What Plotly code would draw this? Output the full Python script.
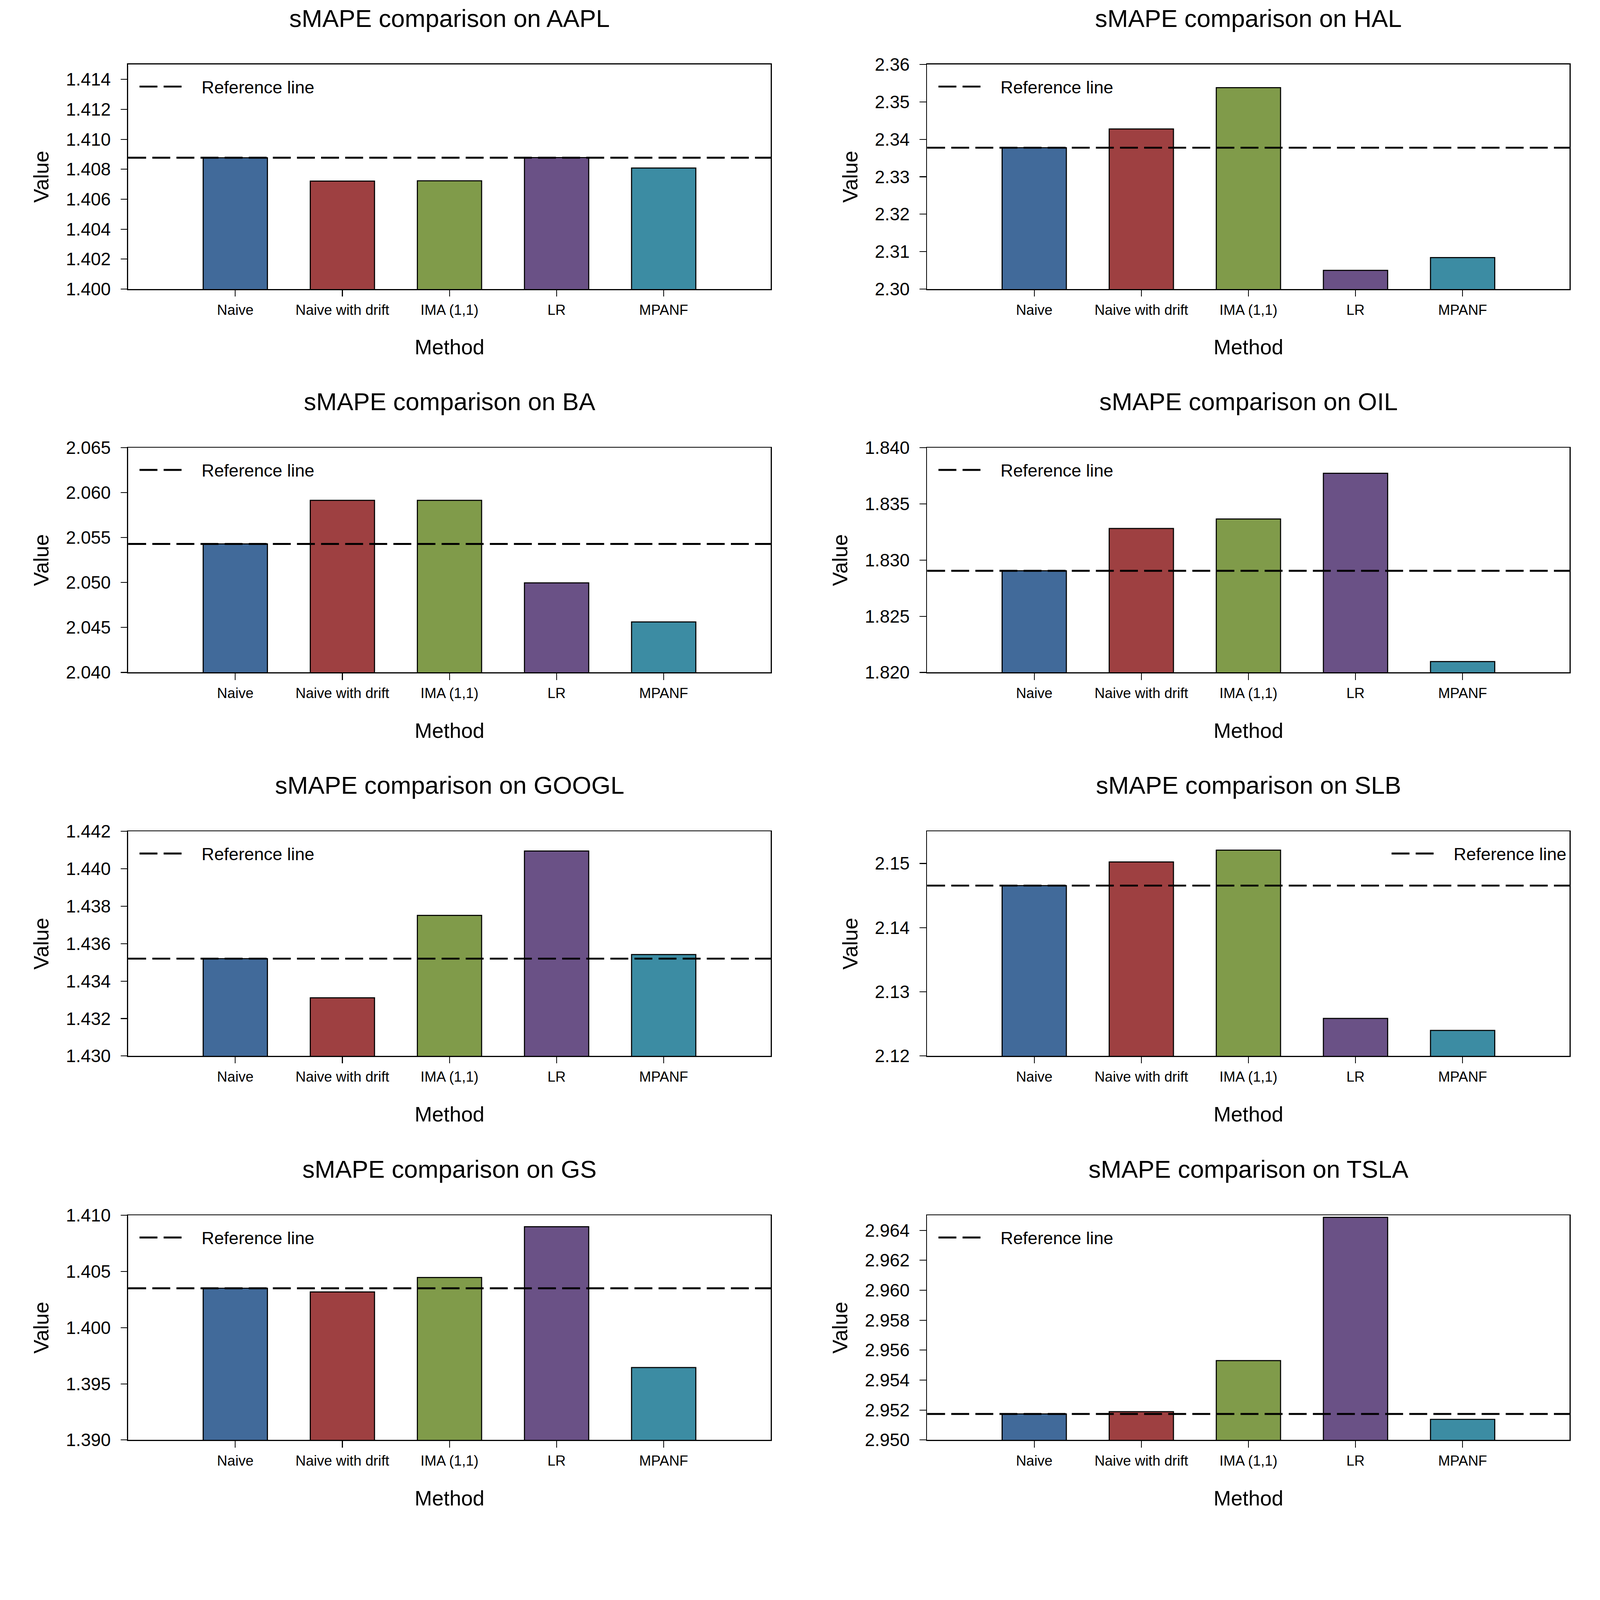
import plotly.graph_objects as go

W, H = 7500, 7198

methods = ["Naive", "Naive with drift", "IMA (1,1)", "LR", "MPANF"]
colors = ["#416A9A", "#9E4041", "#809B4A", "#6A5186", "#3C8CA3"]

tickers = ["AAPL", "HAL", "BA", "OIL", "GOOGL", "SLB", "GS", "TSLA"]

aapl = [1.40877, 1.40721, 1.40723, 1.40878, 1.40808]
hal = [2.33776, 2.34276, 2.35380, 2.30500, 2.30842]
ba = [2.05430, 2.05915, 2.05915, 2.04997, 2.04562]
oil = [1.82905, 1.83282, 1.83366, 1.83773, 1.82097]
googl = [1.43520, 1.43311, 1.43751, 1.44095, 1.43542]
slb = [2.14655, 2.15023, 2.15207, 2.12586, 2.12398]
gs = [1.40351, 1.40318, 1.40447, 1.40899, 1.39645]
tsla = [2.95174, 2.95189, 2.95530, 2.96487, 2.95138]

values = [aapl, hal, ba, oil, googl, slb, gs, tsla]
reference = [v[0] for v in values]

y_ranges = [[1.400, 1.415], [2.30, 2.36], [2.040, 2.065], [1.820, 1.840],
            [1.430, 1.442], [2.12, 2.155], [1.390, 1.410], [2.950, 2.965]]
y_dticks = [0.002, 0.01, 0.005, 0.005, 0.002, 0.01, 0.005, 0.002]
y_formats = [".3f", ".2f", ".3f", ".3f", ".3f", ".2f", ".3f", ".3f"]
legend_right = [False, False, False, False, False, True, False, False]

FONT = "Arial, Liberation Sans, Helvetica, sans-serif"

col_x = [(601, 3613), (4346, 7358)]
row_top = [302, 2099, 3897, 5697]
plot_h = 1053

fig = go.Figure()
layout = dict(
    width=W, height=H,
    margin=dict(l=0, r=0, t=0, b=0, pad=0, autoexpand=False),
    paper_bgcolor="white", plot_bgcolor="white",
    font=dict(family=FONT, color="black"),
    annotations=[], shapes=[],
)

for i, tk in enumerate(tickers):
    r, c = divmod(i, 2)
    k = i + 1
    xa = "x" if k == 1 else f"x{k}"
    ya = "y" if k == 1 else f"y{k}"
    lg = "legend" if k == 1 else f"legend{k}"
    x0, x1 = col_x[c]
    top = row_top[r]
    bot = top + plot_h
    xd = [x0 / W, x1 / W]
    yd = [1 - bot / H, 1 - top / H]

    fig.add_trace(go.Bar(
        x=methods, y=values[i], xaxis=xa, yaxis=ya, width=0.6,
        marker=dict(color=colors, line=dict(color="black", width=5)),
        showlegend=False,
    ))
    # legend entry for the reference line
    fig.add_trace(go.Scatter(
        x=[None], y=[None], xaxis=xa, yaxis=ya, mode="lines",
        name="Reference line", legend=lg, showlegend=True,
        line=dict(color="black", width=9, dash="84px,29px,84px,600px"),
    ))

    layout[f"xaxis{'' if k == 1 else k}"] = dict(
        domain=xd, anchor=ya, type="category",
        categoryorder="array", categoryarray=methods,
        range=[-1, 5], showgrid=False, zeroline=False,
        showline=True, mirror=True, linecolor="black", linewidth=5,
        ticks="outside", ticklen=30, tickwidth=4, tickcolor="black",
        tickfont=dict(family=FONT, size=67, color="black"),
        ticklabelstandoff=5, automargin=False,
        title=dict(text="Method", font=dict(family=FONT, size=98, color="black"), standoff=106),
        fixedrange=True,
    )
    layout[f"yaxis{'' if k == 1 else k}"] = dict(
        domain=yd, anchor=xa, range=y_ranges[i], dtick=y_dticks[i],
        tick0=y_ranges[i][0], tickformat=y_formats[i],
        showgrid=False, zeroline=False,
        showline=True, mirror=True, linecolor="black", linewidth=5,
        ticks="outside", ticklen=30, tickwidth=4, tickcolor="black",
        tickfont=dict(family=FONT, size=84, color="black"),
        ticklabelstandoff=30, automargin=False,
        title=dict(text="Value", font=dict(family=FONT, size=98, color="black"), standoff=50),
        fixedrange=True,
    )

    leg_y = 1 - (top + 104) / H
    if legend_right[i]:
        leg = dict(x=(x1 - 10) / W, xanchor="right")
    else:
        leg = dict(x=(x0 + 48) / W, xanchor="left")
    leg.update(y=leg_y, yanchor="middle", bgcolor="rgba(0,0,0,0)",
               borderwidth=0, itemwidth=286,
               font=dict(family=FONT, size=82, color="black"))
    layout[lg] = leg

    layout["shapes"].append(dict(
        type="line", xref=f"{xa} domain", yref=ya,
        x0=0, x1=1, y0=reference[i], y1=reference[i],
        line=dict(color="black", width=9, dash="84px,29px"),
        layer="above",
    ))

    layout["annotations"].append(dict(
        text=f"sMAPE comparison on {tk}", xref="paper", yref="paper",
        x=(x0 + x1) / 2 / W, y=1 - (top - 216) / H,
        xanchor="center", yanchor="middle", showarrow=False,
        font=dict(family=FONT, size=116, color="black"),
    ))

fig.update_layout(**layout)

# Fit the fixed-size figure into whatever CSS viewport the browser reports.
post_script = """
var gd = document.getElementById('{plot_id}');
document.documentElement.style.margin = '0';
document.documentElement.style.padding = '0';
document.documentElement.style.overflow = 'hidden';
document.body.style.margin = '0';
document.body.style.padding = '0';
document.body.style.overflow = 'hidden';
var s = Math.min(window.innerWidth / %d, window.innerHeight / %d);
if (s > 0 && s < 1) {
    gd.style.transformOrigin = '0 0';
    gd.style.transform = 'scale(' + s + ')';
}
""" % (W, H)

fig.write_html("out.html", post_script=post_script, config={"displayModeBar": False})
